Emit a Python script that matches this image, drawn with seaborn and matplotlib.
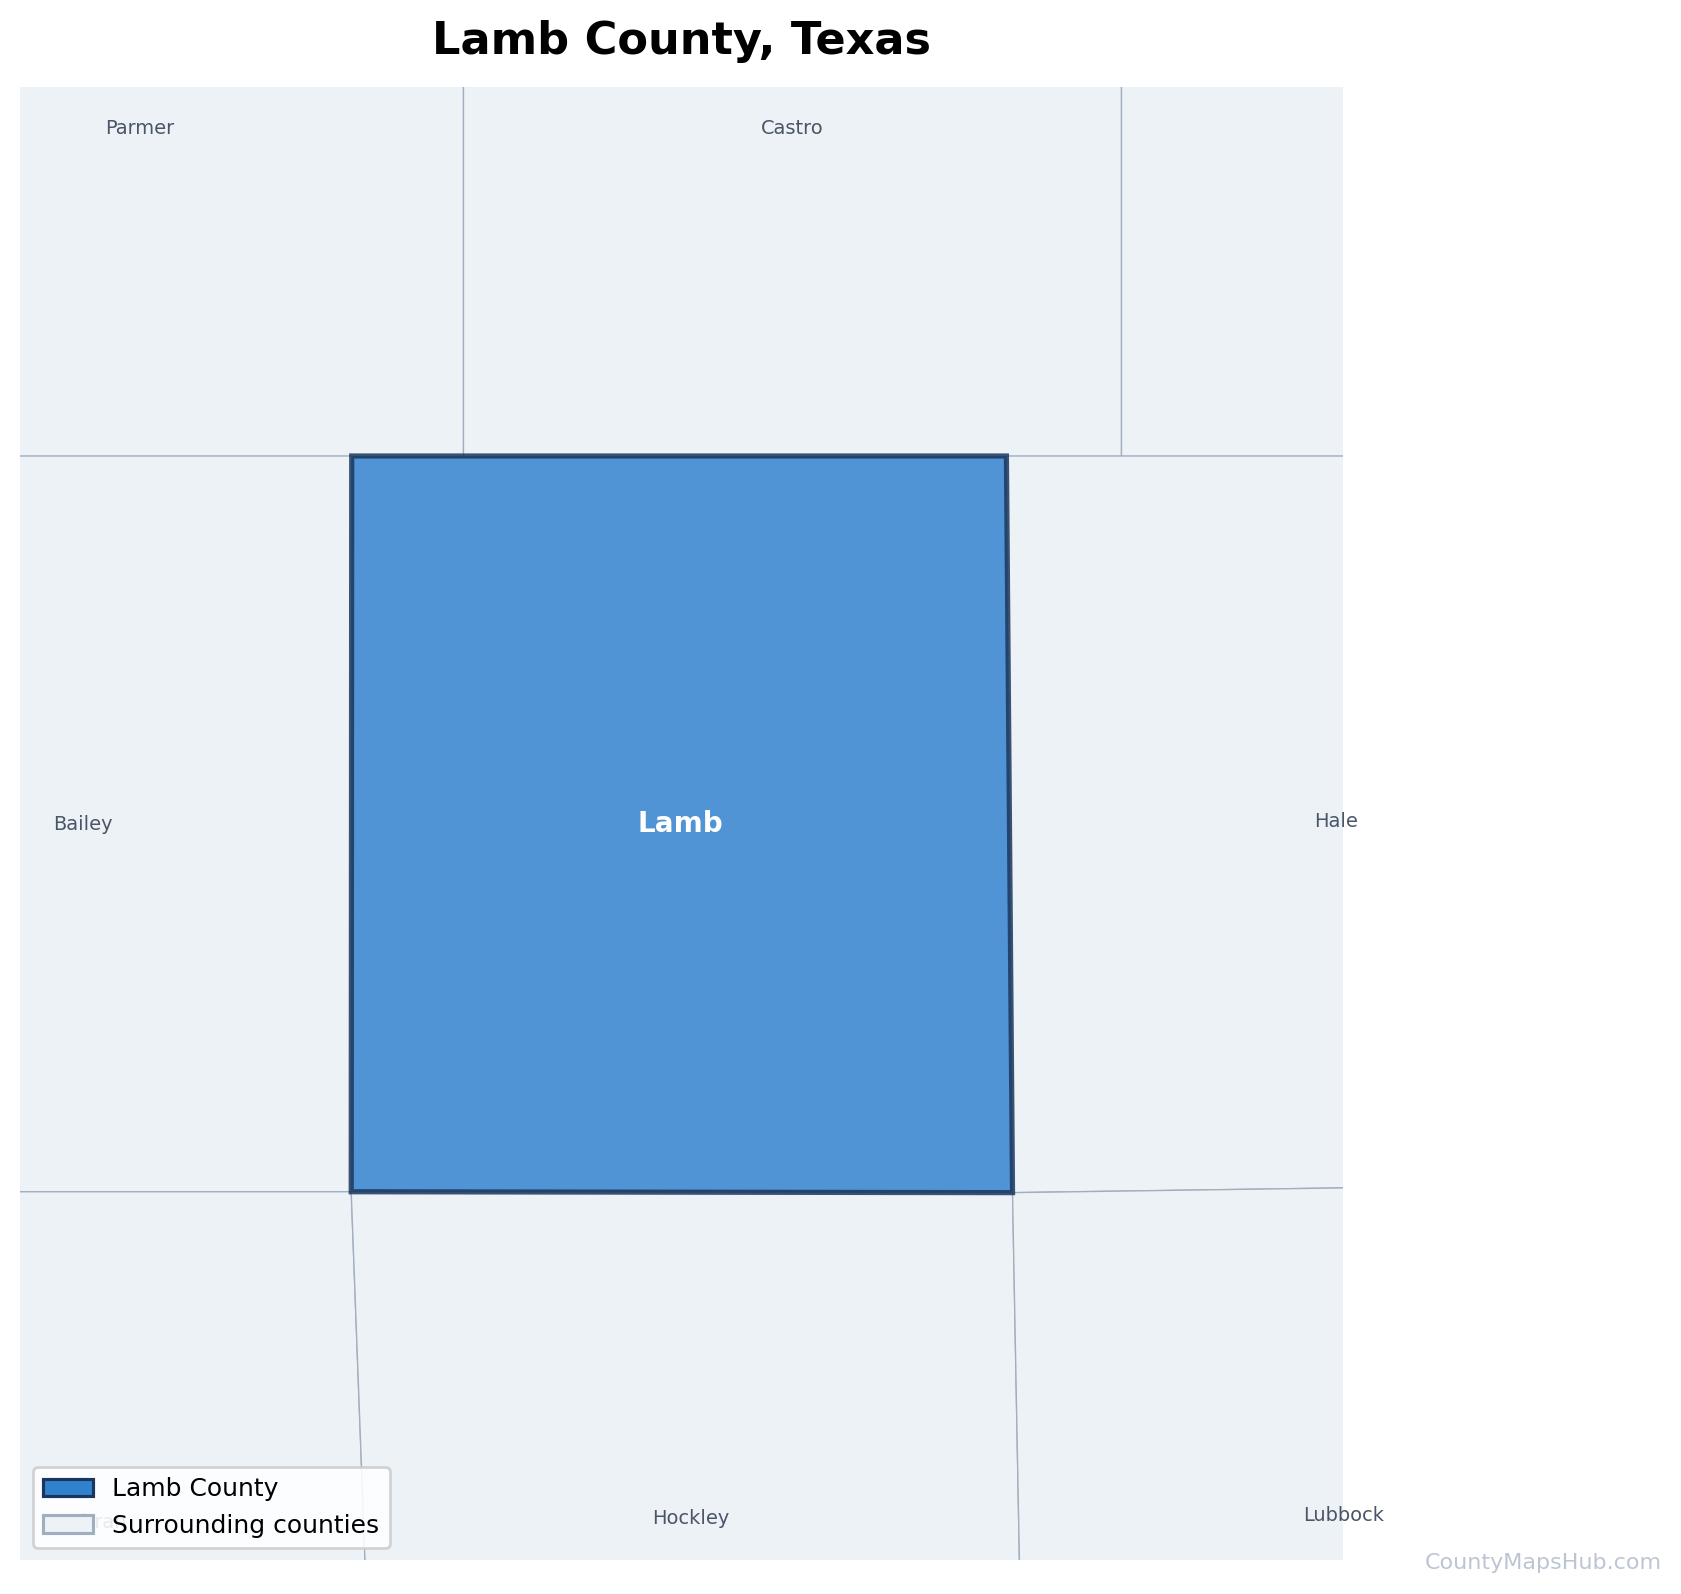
import matplotlib
matplotlib.use("Agg")
import matplotlib.pyplot as plt
from matplotlib.patches import Patch
import seaborn as sns

sns.set_style("white")

# county outlines as lon / lat, outer edges run past the map window
lamb_lon = [-102.6148, -102.0902, -102.0853, -102.6152]
lamb_lat = [34.31, 34.31, 33.8189, 33.8195]

county_names = ["Parmer", "Castro", "Swisher", "Bailey", "Hale", "Cochran", "Hockley", "Lubbock"]
county_lons = [
    [-103.0, -102.5257, -102.5257, -103.0],
    [-102.5257, -101.998, -101.998, -102.5257],
    [-101.998, -101.7, -101.7, -101.998],
    [-103.0, -102.6148, -102.6152, -103.0],
    [-102.0902, -101.7, -101.7, -102.0853],
    [-103.0, -102.6152, -102.5986, -103.0],
    [-102.6152, -102.0853, -102.0770, -102.5986],
    [-102.0853, -101.7, -101.7, -102.0770],
]
county_lats = [
    [34.7, 34.7, 34.31, 34.31],
    [34.7, 34.7, 34.31, 34.31],
    [34.7, 34.7, 34.31, 34.31],
    [34.31, 34.31, 33.8195, 33.8195],
    [34.31, 34.31, 33.8235, 33.8189],
    [33.8195, 33.8195, 33.45, 33.45],
    [33.8195, 33.8189, 33.45, 33.45],
    [33.8189, 33.8235, 33.45, 33.45],
]

label_names = ["Parmer", "Castro", "Bailey", "Hale", "Cochran", "Hockley", "Lubbock"]
label_lons = [-102.785, -102.2615, -102.8305, -101.8264, -102.827, -102.3434, -101.8201]
label_lats = [34.5283, 34.5283, 34.0646, 34.0662, 33.5987, 33.602, 33.6035]
lamb_label = (-102.3515, 34.0646)

fig = plt.figure(figsize=(1681 / 150, 1594 / 150), dpi=150)
ax = fig.add_axes([20 / 1681, 1 - 1560 / 1594, 1323 / 1681, 1473 / 1594])

for name, lons, lats in zip(county_names, county_lons, county_lats):
    ax.fill(lons, lats, facecolor="#edf2f7", edgecolor="#a0aec0", linewidth=0.65, zorder=1)

ax.fill(lamb_lon, lamb_lat, facecolor="#3182ce", edgecolor="#1a365d", linewidth=2.5,
        alpha=0.85, zorder=2)

for name, x, y in zip(label_names, label_lons, label_lats):
    ax.text(x, y, name, fontsize=9.3, color="#4a5568", ha="center", va="center",
            clip_on=False, zorder=3)
ax.text(lamb_label[0], lamb_label[1], "Lamb", fontsize=13.4, fontweight="bold", color="white",
        ha="center", va="center", zorder=4)

ax.set_xlim(-102.8806, -101.8205)
ax.set_ylim(33.574, 34.556)
ax.set_xticks([])
ax.set_yticks([])
sns.despine(ax=ax, left=True, bottom=True)

ax.set_title("Lamb County, Texas", fontsize=21.4, fontweight="bold", color="black", pad=15.7)

handles = [
    Patch(facecolor="#3182ce", edgecolor="#1a365d", linewidth=1.5, label="Lamb County"),
    Patch(facecolor="#edf2f7", edgecolor="#a0aec0", linewidth=1.5, label="Surrounding counties"),
]
leg = ax.legend(handles=handles, loc="lower left", fontsize=12, frameon=True, framealpha=0.88,
                labelcolor="black")
leg.get_frame().set_linewidth(1.3)
leg.set_zorder(5)

fig.text(1662 / 1681, 1 - 1563 / 1594, "CountyMapsHub.com", fontsize=10.7, color="#a0aec0",
         alpha=0.7, ha="right", va="center")

fig.savefig("out.png", dpi=150)
